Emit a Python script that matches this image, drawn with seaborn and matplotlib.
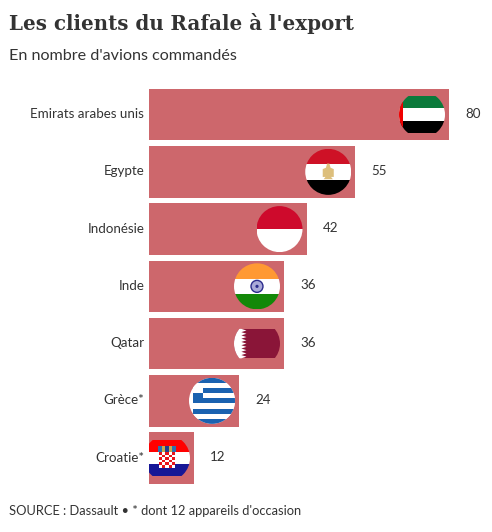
import numpy as np
import pandas as pd
import seaborn as sns
import matplotlib.pyplot as plt
from matplotlib.patches import Circle, Polygon, Rectangle
from matplotlib.transforms import ScaledTranslation

# Data
pays = ['Emirats arabes unis', 'Egypte', 'Indonésie', 'Inde', 'Qatar', 'Grèce*', 'Croatie*']
avions = [80, 55, 42, 36, 36, 24, 12]
titre = "Les clients du Rafale à l'export"
sous_titre = "En nombre d'avions commandés"
source = "SOURCE : Dassault • * dont 12 appareils d'occasion"

W, H = 492, 532
BAR = '#CD676C'
TXT = '#333333'

sns.set_theme(style='white')
plt.rcParams['font.family'] = ['Lato', 'DejaVu Sans']

df = pd.DataFrame({'pays': pays, 'avions': avions})

fig = plt.figure(figsize=(W / 100, H / 100), dpi=100, facecolor='white')
ax = fig.add_axes([149 / W, 1 - 486.7 / H, (W - 149) / W, 400.7 / H])
sns.barplot(data=df, x='avions', y='pays', orient='h', color=BAR, saturation=1, width=0.9, linewidth=0, ax=ax)
ax.set_xlim(0, (W - 149) / 3.75)
ax.set_xlabel('')
ax.set_ylabel('')
ax.set_xticks([])
ax.tick_params(axis='y', length=0, pad=3.5, labelsize=9.6, labelcolor=TXT)
# labels un peu plus haut
decale = ScaledTranslation(0, 1.5 / 100, fig.dpi_scale_trans)
for lab in ax.get_yticklabels():
    lab.set_transform(lab.get_transform() + decale)
sns.despine(ax=ax, left=True, bottom=True)

for i, v in enumerate(avions):
    ax.annotate(str(v), (v, i), xytext=(11.5, 0.7), textcoords='offset points',
                va='center', ha='left', fontsize=9.6, color=TXT)


def stripes(fa, cols, y0=-1, y1=1, x0=-1, x1=1):
    h = (y1 - y0) / len(cols)
    out = []
    for k, c in enumerate(cols):
        out.append(fa.add_patch(Rectangle((x0, y1 - (k + 1) * h), x1 - x0, h, color=c, lw=0)))
    return out


def flag_uae(fa):
    y = 0.82
    p = stripes(fa, ['#0B7A3B', '#FFFFFF', '#000000'], -y, y)
    p.append(fa.add_patch(Rectangle((-1, -y), 0.175, 2 * y, color='#F00000', lw=0)))
    return p


def flag_egypt(fa):
    p = stripes(fa, ['#CE1126', '#FFFFFF', '#000000'])
    aigle = [(-0.24, 0.12), (-0.1, 0.18), (-0.05, 0.36), (0.05, 0.36), (0.1, 0.18), (0.24, 0.12),
             (0.24, -0.22), (0.12, -0.22), (0.2, -0.32), (-0.2, -0.32), (-0.12, -0.22), (-0.24, -0.22)]
    p.append(fa.add_patch(Polygon(aigle, color='#DDBF7C', lw=0)))
    return p


def flag_indonesia(fa):
    return stripes(fa, ['#CE0A2C', '#FFFFFF'])


def flag_india(fa):
    p = stripes(fa, ['#FF9933', '#FFFFFF', '#138808'])
    p.append(fa.add_patch(Circle((0, 0), 0.26, fc='#A9A9D8', ec='#2B2B8C', lw=1)))
    p.append(fa.add_patch(Circle((0, 0), 0.07, color='#2B2B8C', lw=0)))
    return p


def flag_qatar(fa):
    y = 0.64
    p = [fa.add_patch(Rectangle((-1, -y), 2, 2 * y, color='#8A1538', lw=0))]
    teeth = []
    n = 9
    for k in range(n):
        teeth.append((-0.68, y - 2 * y * k / n))
        teeth.append((-0.46, y - 2 * y * (k + 0.5) / n))
    teeth.append((-0.68, -y))
    teeth += [(-1, -y), (-1, y)]
    p.append(fa.add_patch(Polygon(teeth, color='#FFFFFF', lw=0)))
    return p


def flag_greece(fa):
    blue = '#1A62B0'
    p = [fa.add_patch(Rectangle((-1, -1), 2, 2, color='white', lw=0))]
    p += stripes(fa, [blue, 'white'] * 4 + [blue], x0=-0.84)
    h = 2 / 9
    # canton
    p.append(fa.add_patch(Rectangle((-0.84, 1 - 3 * h), 0.44, 2 * h, color='white', lw=0)))
    p.append(fa.add_patch(Rectangle((-0.84, 1 - 5 * h), 0.44, 2 * h, color=blue, lw=0)))
    return p


def flag_croatia(fa):
    y = 0.8
    p = stripes(fa, ['#FF0000', '#FFFFFF', '#171796'], -y, y)
    sx = 0.14
    sy = 0.113
    for a in range(5):
        for b in range(6):
            c = '#E8141C' if (a + b) % 2 == 0 else 'white'
            p.append(fa.add_patch(Rectangle((-0.35 + a * sx, 0.26 - (b + 1) * sy), sx, sy, color=c, lw=0)))
    couronne = ['#2E6FB0', '#C9A94A', '#1F3F8F', '#C9A94A', '#2E6FB0']
    for k, c in enumerate(couronne):
        p.append(fa.add_patch(Rectangle((-0.38 + k * 0.152, 0.28), 0.152, 0.26, color=c, lw=0)))
    return p


dessins = [flag_uae, flag_egypt, flag_indonesia, flag_india, flag_qatar, flag_greece, flag_croatia]

# rayon du drapeau : 23 px
xmax = (W - 149) / 3.75
rx = 23 / 3.75
ry = 23 / 57.2
for i, (v, dessin) in enumerate(zip(avions, dessins)):
    cx = v - 27 / 3.75
    x0 = max(0, cx - rx)
    fa = ax.inset_axes([x0 / xmax, 1 - (i + 0.5 + ry) / 7, (cx + rx - x0) / xmax, 2 * ry / 7])
    fa.set_xlim((x0 - cx) / rx, 1)
    fa.set_ylim(-1, 1)
    fa.axis('off')
    rond = Circle((0, 0), 1, transform=fa.transData)
    for p in dessin(fa):
        p.set_clip_path(rond)

fig.text(9 / W, 1 - 24 / H, titre, family='DejaVu Serif', weight='bold', fontsize=14.3, color=TXT, va='center')
fig.text(9 / W, 1 - 56 / H, sous_titre, fontsize=11.6, color=TXT, va='center')
fig.text(9 / W, 1 - 511 / H, source, fontsize=9.3, color=TXT, va='center')

fig.savefig('out.png', dpi=100)
